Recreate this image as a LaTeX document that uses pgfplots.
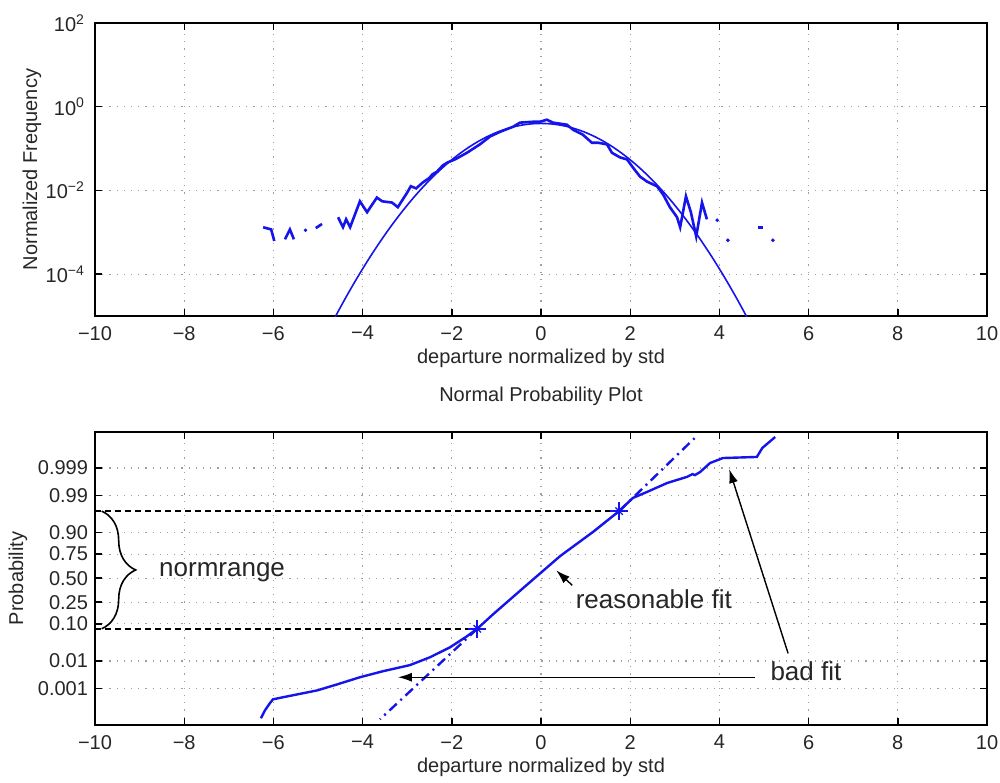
\documentclass[border=0pt]{standalone}
\usepackage{fontspec}
\setmainfont{Liberation Sans}
\usepackage{pgfplots}
\pgfplotsset{compat=1.18}
\usetikzlibrary{arrows.meta,decorations.pathreplacing}
\definecolor{mblue}{RGB}{20,20,235}

\pgfplotsset{matlab/.style={
  scale only axis, width=446pt, height=146.5pt,
  xmin=-10, xmax=10,
  xtick={-10,-8,-6,-4,-2,0,2,4,6,8,10},
  xticklabels={−10,−8,−6,−4,−2,0,2,4,6,8,10},
  tick label style={font=\fontsize{10}{12}\selectfont, text=black!85},
  xticklabel style={yshift=-1.5pt},
  label style={font=\fontsize{10}{12}\selectfont, text=black!85},
  tick align=inside, major tick length=3.5pt,
  axis line style={line width=0.8pt},
  every tick/.style={black, line width=0.7pt},
  grid=major,
  grid style={gray!75, line width=0.6pt, dash pattern=on 0.6pt off 3pt},
  xlabel={departure normalized by std},
  xlabel style={at={(axis description cs:0.5,0)}, anchor=center, yshift=-21pt},
  /pgf/number format/assume math mode=true,
}}

\begin{document}
\begin{tikzpicture}
\useasboundingbox (-47.5pt,-233pt) rectangle (452.5pt,158pt);

% ---------------- top axis ----------------
\begin{axis}[matlab,
  at={(0pt,0pt)}, anchor=south west,
  ymode=log, ymin=1e-5, ymax=1e2,
  ytick={1e-4,1e-2,1,1e2},
  yticklabels={10\textsuperscript{−4},10\textsuperscript{−2},10\textsuperscript{0},10\textsuperscript{2}},
  minor y tick num=0,
  ylabel={Normalized Frequency},
  ylabel style={at={(axis description cs:-0.0706,0.5)}, anchor=center},
  yticklabel style={xshift=-1.5pt},
]
% fitted normal pdf
\addplot[mblue, line width=0.8pt, smooth] coordinates {
(-4.8,3.961e-6) (-4.6,1.014e-5) (-4.4,2.494e-5) (-4.2,5.894e-5) (-4.0,1.338e-4)
(-3.8,2.92e-4) (-3.6,6.12e-4) (-3.4,1.232e-3) (-3.2,2.384e-3) (-3.0,4.432e-3)
(-2.8,7.915e-3) (-2.6,1.3583e-2) (-2.4,2.2395e-2) (-2.2,3.5475e-2) (-2.0,5.3991e-2)
(-1.8,7.895e-2) (-1.6,0.110921) (-1.4,0.149727) (-1.2,0.194186) (-1.0,0.241971)
(-0.8,0.289692) (-0.6,0.333225) (-0.4,0.36827) (-0.2,0.391043) (0,0.398942)
(0.2,0.391043) (0.4,0.36827) (0.6,0.333225) (0.8,0.289692) (1.0,0.241971)
(1.2,0.194186) (1.4,0.149727) (1.6,0.110921) (1.8,7.895e-2) (2.0,5.3991e-2)
(2.2,3.5475e-2) (2.4,2.2395e-2) (2.6,1.3583e-2) (2.8,7.915e-3) (3.0,4.432e-3)
(3.2,2.384e-3) (3.4,1.232e-3) (3.6,6.12e-4) (3.8,2.92e-4) (4.0,1.338e-4)
(4.2,5.894e-5) (4.4,2.494e-5) (4.6,1.014e-5) (4.8,3.961e-6)
};
% empirical histogram (segments)
\addplot[mblue, line width=1.3pt] coordinates {(-6.23,1.32e-3) (-6.05,1.17e-3) (-5.98,6.2e-4)};
\addplot[mblue, line width=1.3pt] coordinates {(-5.74,6.8e-4) (-5.63,1.17e-3) (-5.54,6.8e-4)};
\addplot[mblue, only marks, mark=*, mark size=0.7pt] coordinates {(-5.28,1.12e-3)};
\addplot[mblue, line width=1.3pt] coordinates {(-5.05,1.26e-3) (-4.91,1.58e-3)};
\addplot[mblue, line width=1.3pt] coordinates {
(-4.55,2.29e-3) (-4.44,1.32e-3) (-4.37,2.04e-3) (-4.28,1.32e-3) (-4.06,5.5e-3)
(-3.90,3.02e-3) (-3.68,6.76e-3) (-3.56,5.5e-3) (-3.34,5.13e-3) (-3.21,3.98e-3)
(-3.00,8.9e-3) (-2.92,1.26e-2) (-2.80,1.12e-2) (-2.65,1.55e-2) (-2.50,2.0e-2)
(-2.44,2.4e-2) (-2.33,2.82e-2) (-2.20,3.98e-2) (-2.09,4.68e-2) (-1.93,5.5e-2)
(-1.66,7.94e-2) (-1.37,0.126) (-1.14,0.195) (-0.92,0.251) (-0.63,0.331)
(-0.47,0.417) (-0.18,0.437) (-0.02,0.437) (0.13,0.490) (0.27,0.417)
(0.58,0.372) (0.72,0.282) (0.94,0.214) (1.14,0.138) (1.28,0.138)
(1.48,0.126) (1.59,7.94e-2) (1.77,6.17e-2) (1.93,5.5e-2) (2.06,3.55e-2)
(2.22,2.14e-2) (2.38,1.62e-2) (2.60,1.26e-2) (2.74,7.94e-3) (2.89,3.98e-3)
(3.05,2.29e-3) (3.12,1.32e-3) (3.25,7.24e-3) (3.36,3.02e-3) (3.48,7.94e-4)
(3.61,5.13e-3) (3.72,2.04e-3)
};
\addplot[mblue, only marks, mark=*, mark size=0.7pt] coordinates {(3.95,1.95e-3) (4.19,6.46e-4) (5.20,6.46e-4)};
\addplot[mblue, line width=1.3pt] coordinates {(4.87,1.32e-3) (4.98,1.32e-3)};
\end{axis}

% ---------------- bottom axis ----------------
\begin{axis}[matlab,
  at={(0pt,-204.5pt)}, anchor=south west,
  ymin=-4.12, ymax=4.1,
  ytick={-3.0902,-2.3263,-1.2816,-0.6745,0,0.6745,1.2816,2.3263,3.0902},
  yticklabels={0.001,0.01,0.10,0.25,0.50,0.75,0.90,0.99,0.999},
  ylabel={Probability},
  ylabel style={at={(axis description cs:-0.0863,0.5)}, anchor=center},
  title={Normal Probability Plot},
  title style={at={(axis description cs:0.5,1)}, anchor=center, yshift=12pt, font=\fontsize{10}{12}\selectfont, text=black!85},
]
% reference (normrange) dashed lines
\addplot[black, line width=0.9pt, dash pattern=on 3pt off 2pt] coordinates {(-10,1.88) (1.75,1.88)};
\addplot[black, line width=0.9pt, dash pattern=on 3pt off 2pt] coordinates {(-10,-1.42) (-1.43,-1.42)};
% fitted line extensions (dash-dot)
\addplot[mblue, line width=1.2pt, dash pattern=on 5pt off 2.5pt on 1pt off 2.5pt] coordinates {(-1.43,-1.42) (-3.61,-3.96)};
\addplot[mblue, line width=1.2pt, dash pattern=on 5pt off 2.5pt on 1pt off 2.5pt] coordinates {(1.75,1.88) (3.52,4.02)};
% empirical probability curve
\addplot[mblue, line width=1.2pt] coordinates {
(-6.28,-3.93) (-6.19,-3.71) (-6.08,-3.51) (-6.01,-3.40) (-5.78,-3.34)
(-5.02,-3.15) (-4.57,-2.98) (-4.06,-2.78) (-3.54,-2.61) (-2.94,-2.44)
(-2.49,-2.22) (-2.04,-1.94) (-1.66,-1.63) (-1.43,-1.42) (-1.08,-1.02)
(-0.31,-0.18) (0.43,0.62) (1.17,1.30) (1.75,1.88) (2.06,2.25)
(2.38,2.42) (2.83,2.67) (3.27,2.84) (3.40,2.92) (3.45,2.89) (3.57,2.98)
(3.79,3.23) (4.08,3.37) (4.84,3.40) (4.96,3.65) (5.25,3.96)
};
% normrange end markers
\addplot[mblue, only marks, mark=+, mark size=4.5pt, line width=0.8pt] coordinates {(-1.43,-1.42) (1.75,1.88)};
\addplot[mblue, only marks, mark=x, mark size=2.6pt, line width=0.6pt] coordinates {(-1.43,-1.42) (1.75,1.88)};
% annotations
\draw[black, line width=0.8pt, decorate, decoration={brace, amplitude=17pt}]
  (axis cs:-9.85,1.88) -- (axis cs:-9.85,-1.42);
\node[anchor=base, font=\fontsize{13}{15}\selectfont, text=black!85] at (axis cs:-7.15,0.06) {normrange};
\node[anchor=base, font=\fontsize{13}{15}\selectfont, text=black!85] at (axis cs:2.53,-0.84) {reasonable fit};
\node[anchor=base, font=\fontsize{13}{15}\selectfont, text=black!85] at (axis cs:5.94,-2.87) {bad fit};
\draw[black, line width=0.7pt, -{Latex[length=7pt,width=4.5pt]}] (axis cs:0.70,-0.20) -- (axis cs:0.34,0.22);
\draw[black, line width=0.7pt, -{Latex[length=7pt,width=4.5pt]}] (axis cs:5.54,-2.11) -- (axis cs:4.22,3.06);
\draw[black, line width=0.7pt, -{Latex[length=7pt,width=4.5pt]}] (axis cs:4.80,-2.78) -- (axis cs:-3.21,-2.78);
\end{axis}
\end{tikzpicture}
\end{document}
